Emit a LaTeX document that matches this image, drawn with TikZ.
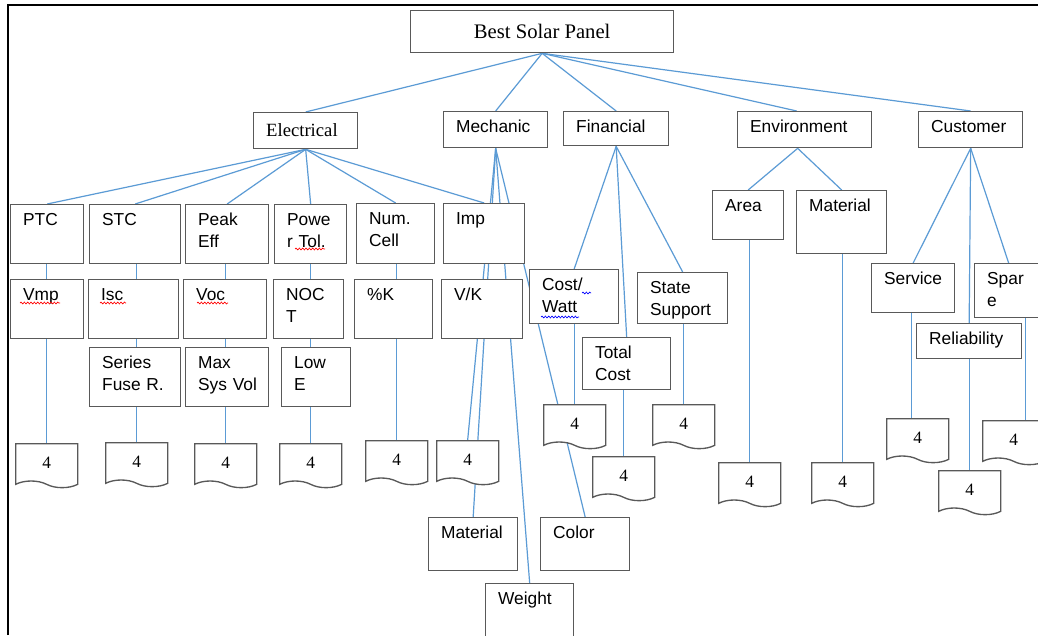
\documentclass[tikz,border=0pt]{standalone}
\usepackage{fontspec}
\setmainfont{Liberation Sans}
\newfontfamily\serifx{Liberation Serif}
\usetikzlibrary{calc,backgrounds,shapes.symbols,decorations.pathmorphing}

\definecolor{linkblue}{HTML}{5B9BD5}
\definecolor{boxgray}{HTML}{595959}

\tikzset{
	box/.style 2 args={draw=boxgray, line width=1pt, fill=white, anchor=north west, align=left,
		inner xsep=9.375pt, inner ysep=0pt,
		/utils/exec={\pgfmathsetlengthmacro\tbw{#1*0.75pt-18.75pt}\pgfmathsetlengthmacro\tbd{#2*0.75pt-15.75pt}},
		text width=\tbw, text height=15.75pt, text depth=\tbd, font=\fontsize{13}{16.5}\selectfont},
	topbox/.style={draw=boxgray, line width=1pt, fill=white, anchor=north west,
		minimum width=197.25pt, minimum height=31.5pt, font=\serifx\fontsize{15.5}{18}\selectfont},
	doc/.style={shape=tape, draw=boxgray, line width=1pt, fill=white, anchor=north west,
		tape bend top=none, tape bend bottom=out and in, tape bend height=5pt,
		minimum width=46.5pt, minimum height=33pt, inner sep=0pt, font=\serifx\fontsize{13}{15}\selectfont},
	link/.style={draw=linkblue, line width=0.9pt},
	spell/.style={draw=red, line width=0.5pt, decorate, decoration={snake, segment length=2.5pt, amplitude=0.7pt}},
	gram/.style={spell, draw=blue},
	frame/.style={draw=black, line width=1.4pt}
}

\begin{document}
\begin{tikzpicture}[x=0.75pt, y=-0.75pt]
	\useasboundingbox (0,0) rectangle (1038,635);
	\draw [frame] (8,635) -- (8,5) -- (1038,5);

	\node (best) at (410,10) [topbox] {Best Solar Panel};

	\node (elec) at (253,112) [box={104}{36}, inner xsep=7.5pt, minimum width=78pt, text height=18pt, text depth=9pt, font=\serifx\fontsize{14}{16}\selectfont] {Electrical};
	\node (mech) at (443,111) [box={104}{36}] {Mechanic};
	\node (fin) at (563,111) [box={105}{34}] {Financial};
	\node (env) at (737,111) [box={134}{36}] {Environment};
	\node (cust) at (918,111) [box={104}{36}] {Customer};

	\node (ptc) at (10,204) [box={73}{59}] {PTC};
	\node (stc) at (89,204) [box={91}{59}] {STC};
	\node (peak) at (185,204) [box={83}{59}] {Peak\\Eff};
	\node (powr) at (274,204) [box={72}{59}] {Powe\\r Tol.};
	\node (ncell) at (356,203) [box={78}{60}] {Num.\\Cell};
	\node (imp) at (443,203) [box={81}{60}] {Imp};

	\node (vmp) at (10,279) [box={73}{59}] {Vmp};
	\node (isc) at (88,279) [box={90}{59}] {Isc};
	\node (voc) at (183,279) [box={83}{59}] {Voc};
	\node (noct) at (273,279) [box={70}{59}] {NOC\\T};
	\node (pk) at (354,279) [box={78}{59}] {\%K};
	\node (vk) at (441,279) [box={81}{59}] {V/K};

	\node (fuse) at (89,347) [box={91}{59}] {Series\\Fuse~R.};
	\node (maxv) at (185,347) [box={83}{59}] {Max\\Sys~Vol};
	\node (lowe) at (281,347) [box={69}{59}] {Low\\E};

	\node (cost) at (529,269) [box={89}{54}] {Cost/\\Watt};
	\node (total) at (582,337) [box={88}{52}] {Total\\Cost};
	\node (state) at (637,272) [box={90}{51}] {State\\Support};

	\node (area) at (712,190) [box={71}{49}] {Area};
	\node (emat) at (796,190) [box={90}{63}] {Material};

	\node (service) at (871,263) [box={83}{49}] {Service};
	\node (spare) at (974,263) [box={68}{54}] {Spar\\e};
	\node (rel) at (916,323) [box={105}{35}] {Reliability};

	\node (mmat) at (428,517) [box={89}{53}] {Material};
	\node (color) at (540,517) [box={89}{53}] {Color};
	\node (weight) at (485,583) [box={88}{70}] {Weight};

	\node (dptc) at (15,443) [doc] {4};
	\node (dfuse) at (105,442) [doc] {4};
	\node (dmax) at (194,443) [doc] {4};
	\node (dlow) at (279,443) [doc] {4};
	\node (dpk) at (365,440) [doc] {4};
	\node (dmech) at (436,440) [doc] {4};
	\node (dcost) at (543,404) [doc] {4};
	\node (dtotal) at (592,456) [doc] {4};
	\node (dstate) at (652,404) [doc] {4};
	\node (darea) at (718,462) [doc] {4};
	\node (demat) at (811,462) [doc] {4};
	\node (dsvc) at (886,418) [doc] {4};
	\node (drel) at (938,470) [doc] {4};
	\node (dspare) at (982,420) [doc] {4};

	\draw [spell] ($(vmp.north west)+(10,24)$) -- ++(40,0);
	\draw [spell] ($(isc.north west)+(12,24)$) -- ++(26,0);
	\draw [spell] ($(voc.north west)+(14,24)$) -- ++(31,0);
	\draw [spell] ($(powr.north west)+(21,45)$) -- ++(30,0);
	\draw [gram] ($(cost.north west)+(12,48)$) -- ++(38,0);
	\draw [gram] ($(cost.north west)+(53,24)$) -- ++(9,0);

	\begin{pgfonlayer}{background}
		\fill [white] (0,0) rectangle (1038,635);

		\draw [link] (best.south) -- (elec.north);
		\draw [link] (best.south) -- (mech.north);
		\draw [link] (best.south) -- (fin.north);
		\draw [link] (best.south) -- ($(env.north)+(-8,0)$);
		\draw [link] (best.south) -- (cust.north);

		\draw [link] (elec.south) -- (ptc.north);
		\draw [link] (elec.south) -- (stc.north);
		\draw [link] (elec.south) -- (peak.north);
		\draw [link] (elec.south) -- (powr.north);
		\draw [link] (elec.south) -- (ncell.north);
		\draw [link] (elec.south) -- (imp.north);

		\draw [link] (dptc.north |- ptc.south) -- (dptc.north);
		\draw [link] (dfuse.north |- stc.south) -- (dfuse.north);
		\draw [link] (dmax.north |- peak.south) -- (dmax.north);
		\draw [link] (dlow.north |- powr.south) -- (dlow.north);
		\draw [link] (dpk.north |- ncell.south) -- (dpk.north);

		\draw [link] (mech.south) -- (dmech.north);
		\draw [link] (mech.south) -- (mmat.north);
		\draw [link] (mech.south) -- (weight.north);
		\draw [link] (mech.south) -- (color.north);

		\draw [link] (fin.south) -- (cost.north);
		\draw [link] (fin.south) -- (total.north);
		\draw [link] (fin.south) -- (state.north);
		\draw [link] (dcost.north |- cost.south) -- (dcost.north);
		\draw [link] (dtotal.north |- total.south) -- (dtotal.north);
		\draw [link] (dstate.north |- state.south) -- (dstate.north);

		\draw [link] ($(env.south)+(-7,0)$) -- (area.north);
		\draw [link] ($(env.south)+(-7,0)$) -- (emat.north);
		\draw [link] (darea.north |- area.south) -- (darea.north);
		\draw [link] (demat.north |- emat.south) -- (demat.north);

		\draw [link] (cust.south) -- (service.north);
		\draw [link] (cust.south) -- (rel.north);
		\draw [link] (cust.south) -- (spare.north);
		\draw [link] ($(service.south)+(-2,0)$) coordinate (sv) -- (sv |- dsvc.north);
		\draw [link] (drel.north |- rel.south) -- (drel.north);
		\draw [link] ($(spare.south)+(17,0)$) coordinate (sp) -- (sp |- dspare.north);
	\end{pgfonlayer}
\end{tikzpicture}
\end{document}
